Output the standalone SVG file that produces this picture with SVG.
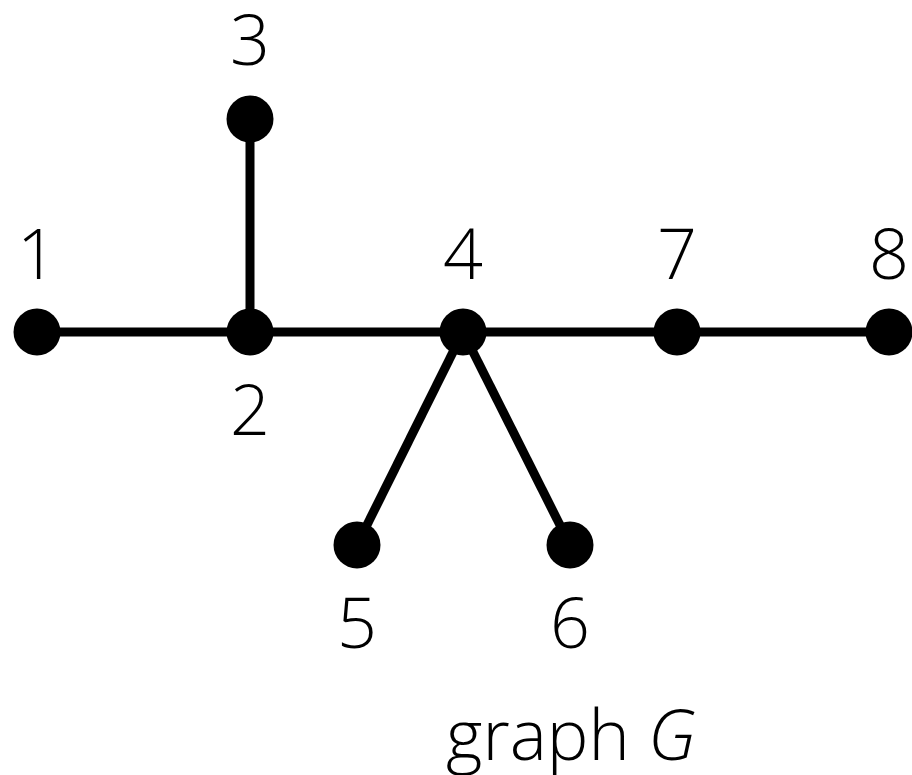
<svg xmlns="http://www.w3.org/2000/svg" width="912" height="775" viewBox="0 0 912 775">
<style>
.e{stroke:#000;stroke-width:9;fill:none}
.n{fill:#000}
.t{font-family:"Open Sans","Noto Sans","DejaVu Sans",sans-serif;font-weight:300;font-size:70px;fill:#000;text-anchor:middle}
</style>
<rect width="912" height="775" fill="#fff"/>
<g id="edges">
<line class="e" x1="37" y1="332" x2="250" y2="332"/>
<line class="e" x1="250" y1="332" x2="250" y2="119"/>
<line class="e" x1="250" y1="332" x2="463" y2="332"/>
<line class="e" x1="463" y1="332" x2="677" y2="332"/>
<line class="e" x1="677" y1="332" x2="889" y2="332"/>
<line class="e" x1="463" y1="332" x2="357" y2="545"/>
<line class="e" x1="463" y1="332" x2="570" y2="545"/>
</g>
<g id="node1"><circle class="n" cx="37" cy="332" r="23.5"/><text class="t" x="37" y="279">1</text></g>
<g id="node2"><circle class="n" cx="250" cy="332" r="23.5"/><text class="t" x="250" y="435">2</text></g>
<g id="node3"><circle class="n" cx="250" cy="119" r="23.5"/><text class="t" x="250" y="65">3</text></g>
<g id="node4"><circle class="n" cx="463" cy="332" r="23.5"/><text class="t" x="463" y="279">4</text></g>
<g id="node5"><circle class="n" cx="357" cy="545" r="23.5"/><text class="t" x="357" y="648">5</text></g>
<g id="node6"><circle class="n" cx="570" cy="545" r="23.5"/><text class="t" x="570" y="648">6</text></g>
<g id="node7"><circle class="n" cx="677" cy="332" r="23.5"/><text class="t" x="677" y="279">7</text></g>
<g id="node8"><circle class="n" cx="889" cy="332" r="23.5"/><text class="t" x="889" y="279">8</text></g>
<text class="t" x="571" y="760">graph <tspan font-style="italic">G</tspan></text>
</svg>
